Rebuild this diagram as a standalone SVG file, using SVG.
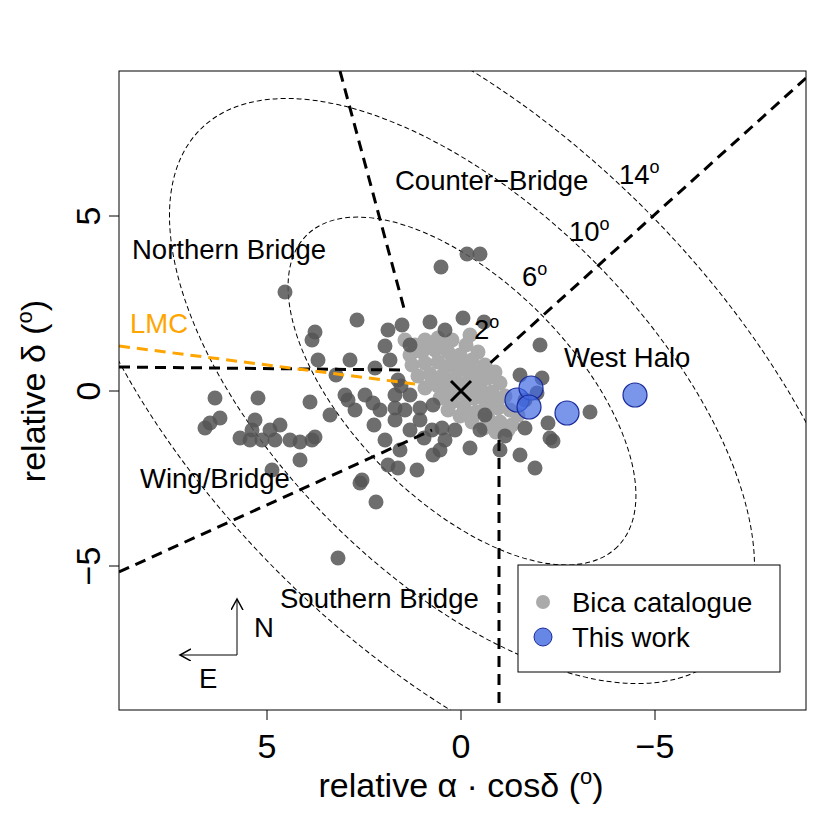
<svg xmlns="http://www.w3.org/2000/svg" width="830" height="830" viewBox="0 0 830 830">
<style>
text{font-family:"Liberation Sans",Arial,sans-serif;fill:#000}
.lab{font-size:27.5px}
.tk{font-size:34px}
.ell{fill:none;stroke:#000;stroke-width:1;stroke-dasharray:5,3}
.thk{fill:none;stroke:#000;stroke-width:3;stroke-dasharray:11,7}
.d circle{fill:#555;fill-opacity:0.85;r:7.5px}
.g circle{fill:#aaa;r:7.5px}
.b circle{fill:#4169e1;fill-opacity:0.7;stroke:#1a2a9a;stroke-width:1.2;r:12px}
.ax{stroke:#000;stroke-width:1;fill:none}
</style>
<defs><marker id="ah" markerWidth="14" markerHeight="14" refX="10" refY="6" orient="auto" markerUnits="userSpaceOnUse"><path d="M0,0 L11,6 L0,12" fill="none" stroke="#000" stroke-width="1.5"/></marker>
<clipPath id="c"><rect x="119" y="71" width="687" height="639"/></clipPath></defs>
<rect width="830" height="830" fill="#fff"/>
<g id="ellipses" clip-path="url(#c)">
<ellipse class="ell" cx="462" cy="391" rx="220" ry="110" transform="rotate(45 462 391)"/>
<ellipse class="ell" cx="462" cy="391" rx="370" ry="185" transform="rotate(45 462 391)"/>
<ellipse class="ell" cx="462" cy="391" rx="515" ry="258" transform="rotate(45 462 391)"/>
</g>
<g id="points" clip-path="url(#c)">
<g class="g">
<circle cx="415" cy="345"/><circle cx="425" cy="340"/><circle cx="438" cy="338"/><circle cx="452" cy="340"/><circle cx="466" cy="345"/><circle cx="478" cy="352"/>
<circle cx="410" cy="355"/><circle cx="422" cy="352"/><circle cx="435" cy="350"/><circle cx="448" cy="352"/><circle cx="460" cy="355"/><circle cx="472" cy="360"/><circle cx="485" cy="365"/><circle cx="495" cy="372"/>
<circle cx="412" cy="365"/><circle cx="425" cy="363"/><circle cx="438" cy="362"/><circle cx="450" cy="365"/><circle cx="462" cy="368"/><circle cx="475" cy="372"/><circle cx="488" cy="378"/><circle cx="500" cy="383"/>
<circle cx="418" cy="376"/><circle cx="430" cy="374"/><circle cx="443" cy="375"/><circle cx="455" cy="378"/><circle cx="468" cy="382"/><circle cx="480" cy="386"/><circle cx="492" cy="392"/><circle cx="505" cy="396"/>
<circle cx="425" cy="388"/><circle cx="438" cy="386"/><circle cx="450" cy="390"/><circle cx="462" cy="393"/><circle cx="474" cy="398"/><circle cx="486" cy="404"/><circle cx="498" cy="408"/><circle cx="510" cy="410"/>
<circle cx="440" cy="398"/><circle cx="452" cy="402"/><circle cx="464" cy="406"/><circle cx="476" cy="412"/><circle cx="488" cy="418"/><circle cx="500" cy="422"/><circle cx="512" cy="425"/>
<circle cx="460" cy="416"/><circle cx="472" cy="422"/><circle cx="484" cy="428"/><circle cx="496" cy="432"/><circle cx="508" cy="430"/><circle cx="405" cy="340"/><circle cx="470" cy="335"/><circle cx="518" cy="415"/>
<circle cx="430" cy="345"/><circle cx="444" cy="346"/><circle cx="456" cy="360"/><circle cx="468" cy="372"/><circle cx="480" cy="378"/><circle cx="432" cy="382"/><circle cx="445" cy="384"/><circle cx="470" cy="390"/><circle cx="482" cy="396"/><circle cx="494" cy="400"/><circle cx="458" cy="386"/><circle cx="448" cy="410"/><circle cx="470" cy="414"/><circle cx="492" cy="424"/>
</g>
<g class="d">
<circle cx="467" cy="254"/><circle cx="480" cy="254"/><circle cx="285" cy="292"/><circle cx="441" cy="267"/><circle cx="357" cy="320"/><circle cx="388" cy="330"/><circle cx="402" cy="325"/><circle cx="430" cy="322"/><circle cx="445" cy="330"/><circle cx="463" cy="318"/><circle cx="484" cy="322"/><circle cx="315" cy="332"/><circle cx="312" cy="340"/><circle cx="318" cy="360"/><circle cx="350" cy="360"/><circle cx="375" cy="368"/><circle cx="336" cy="375"/><circle cx="345" cy="395"/><circle cx="373" cy="403"/><circle cx="395" cy="395"/><circle cx="410" cy="345"/><circle cx="405" cy="410"/><circle cx="420" cy="420"/><circle cx="432" cy="430"/><circle cx="442" cy="428"/><circle cx="455" cy="430"/><circle cx="485" cy="415"/><circle cx="520" cy="375"/><circle cx="540" cy="345"/><circle cx="537" cy="393"/><circle cx="548" cy="423"/><circle cx="553" cy="441"/><circle cx="590" cy="412"/><circle cx="535" cy="468"/><circle cx="520" cy="455"/><circle cx="500" cy="450"/><circle cx="470" cy="448"/><circle cx="440" cy="450"/><circle cx="433" cy="455"/><circle cx="417" cy="470"/><circle cx="398" cy="468"/><circle cx="388" cy="465"/><circle cx="400" cy="450"/><circle cx="385" cy="440"/><circle cx="374" cy="425"/><circle cx="355" cy="410"/><circle cx="348" cy="400"/><circle cx="330" cy="415"/><circle cx="310" cy="402"/><circle cx="312" cy="440"/><circle cx="300" cy="442"/><circle cx="280" cy="425"/><circle cx="270" cy="430"/><circle cx="252" cy="430"/><circle cx="250" cy="440"/><circle cx="262" cy="440"/><circle cx="240" cy="438"/><circle cx="215" cy="398"/><circle cx="210" cy="423"/><circle cx="205" cy="428"/><circle cx="220" cy="418"/><circle cx="258" cy="398"/><circle cx="255" cy="420"/><circle cx="275" cy="440"/><circle cx="272" cy="470"/><circle cx="290" cy="440"/><circle cx="300" cy="460"/><circle cx="360" cy="483"/><circle cx="376" cy="502"/><circle cx="362" cy="480"/><circle cx="338" cy="558"/><circle cx="401" cy="386"/><circle cx="398" cy="380"/><circle cx="433" cy="405"/><circle cx="480" cy="430"/><circle cx="505" cy="436"/><circle cx="525" cy="428"/><circle cx="550" cy="438"/><circle cx="385" cy="346"/><circle cx="390" cy="360"/><circle cx="395" cy="408"/><circle cx="410" cy="430"/><circle cx="424" cy="438"/><circle cx="445" cy="440"/><circle cx="315" cy="437"/><circle cx="542" cy="378"/><circle cx="380" cy="410"/><circle cx="395" cy="420"/><circle cx="365" cy="395"/><circle cx="420" cy="408"/><circle cx="410" cy="395"/><circle cx="525" cy="400"/>
</g>
<g class="b">
<circle cx="517" cy="400"/><circle cx="531" cy="388"/><circle cx="529" cy="407"/><circle cx="567" cy="413"/><circle cx="635" cy="395"/>
</g>
</g>
<g id="connectors" clip-path="url(#c)">
<line class="thk" x1="340" y1="71" x2="405" y2="312"/>
<line class="thk" x1="806" y1="78" x2="488" y2="365"/>
<line class="thk" x1="119" y1="367" x2="405" y2="370"/>
<line class="thk" x1="119" y1="572" x2="432" y2="430"/>
<line class="thk" x1="499" y1="440" x2="499" y2="710"/>
<line class="thk" x1="119" y1="346" x2="415" y2="384" style="stroke:#ffa500"/>
<path d="M451,381 L471,401 M471,381 L451,401" stroke="#000" stroke-width="3"/>
</g>
<g id="labels">
<text class="lab" x="395" y="190">Counter−Bridge</text>
<text class="lab" x="619" y="184">14<tspan font-size="18" dy="-11">o</tspan></text>
<text class="lab" x="569" y="241">10<tspan font-size="18" dy="-11">o</tspan></text>
<text class="lab" x="522" y="286">6<tspan font-size="18" dy="-11">o</tspan></text>
<text class="lab" x="474" y="339">2<tspan font-size="18" dy="-11">o</tspan></text>
<text class="lab" x="132" y="259">Northern Bridge</text>
<text class="lab" x="130" y="333" style="fill:#ffa500">LMC</text>
<text class="lab" x="564" y="367">West Halo</text>
<text class="lab" x="140" y="488">Wing/Bridge</text>
<text class="lab" x="280" y="608">Southern Bridge</text>
</g>
<g id="compass">
<line class="ax" x1="237" y1="655" x2="237" y2="600" marker-end="url(#ah)" stroke-width="1.5"/>
<line class="ax" x1="237" y1="655" x2="181" y2="655" marker-end="url(#ah)" stroke-width="1.5"/>
<text class="lab" x="254" y="637">N</text>
<text class="lab" x="199" y="688">E</text>
</g>
<g id="legend">
<rect x="518" y="565" width="262" height="107" fill="#fff" stroke="#000"/>
<circle cx="543" cy="602" r="7" fill="#aaa"/>
<text class="lab" x="572" y="612">Bica catalogue</text>
<circle cx="543" cy="637" r="9" fill="#4169e1" fill-opacity="0.8" stroke="#1a2a9a"/>
<text class="lab" x="572" y="647">This work</text>
</g>
<g id="axes">
<rect x="119" y="71" width="687" height="639" class="ax"/>
<path class="ax" d="M267,710 v10 M461,710 v10 M655,710 v10 M119,216 h-10 M119,391 h-10 M119,566 h-10"/>
<text class="tk" x="267" y="758" text-anchor="middle">5</text>
<text class="tk" x="461" y="758" text-anchor="middle">0</text>
<text class="tk" x="655" y="758" text-anchor="middle">−5</text>
<text class="tk" transform="translate(100 216) rotate(-90)" text-anchor="middle">5</text>
<text class="tk" transform="translate(100 391) rotate(-90)" text-anchor="middle">0</text>
<text class="tk" transform="translate(100 566) rotate(-90)" text-anchor="middle">−5</text>
<text class="tk" x="461" y="797" text-anchor="middle">relative α · cosδ (<tspan font-size="22" dy="-13">o</tspan><tspan dy="13">)</tspan></text>
<text class="tk" transform="translate(45 391) rotate(-90)" text-anchor="middle">relative δ (<tspan font-size="22" dy="-13">o</tspan><tspan dy="13">)</tspan></text>
</g>
</svg>
